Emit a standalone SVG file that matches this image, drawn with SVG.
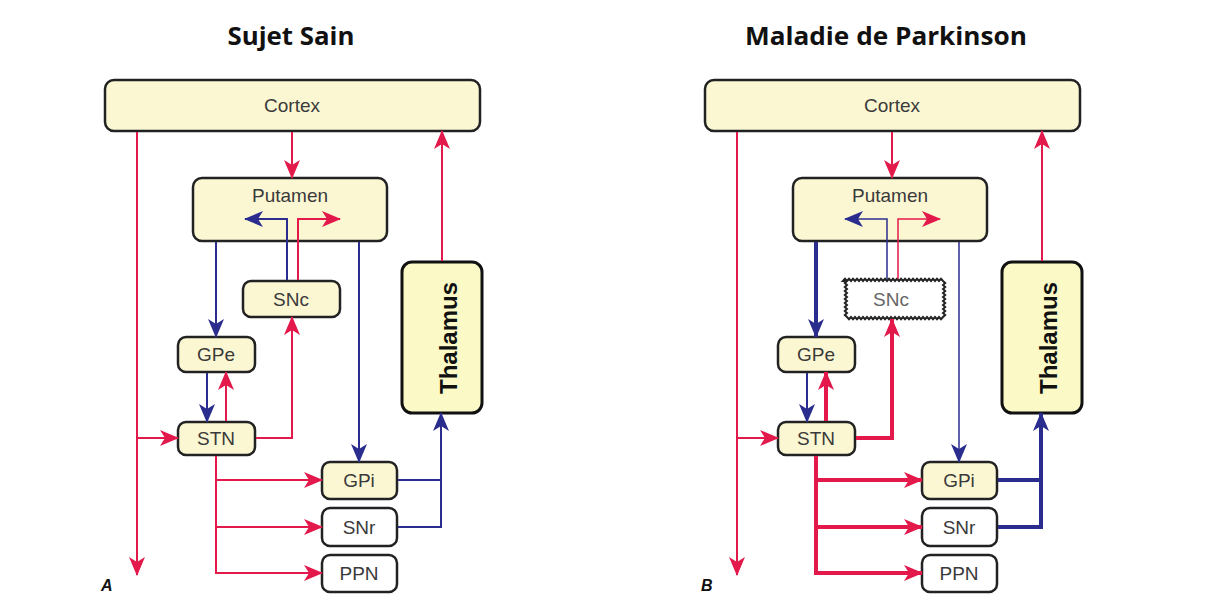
<svg xmlns="http://www.w3.org/2000/svg" width="1209" height="608" viewBox="0 0 1209 608">
<defs>
<style>
.box{fill:#fcf7d3;stroke:#222;stroke-width:2.5}
.wbox{fill:#fff;stroke:#222;stroke-width:2.5}
.thal{fill:#fbfac6;stroke:#111;stroke-width:3}
.lbl{font-family:"Liberation Sans",Arial,sans-serif;font-size:19px;fill:#3a3a3a;text-anchor:middle}
.title{font-family:"Open Sans","Liberation Sans",sans-serif;font-weight:bold;font-size:25px;fill:#111;text-anchor:middle}
.thtxt{font-family:"Liberation Sans",Arial,sans-serif;font-weight:bold;font-size:24px;fill:#111;text-anchor:middle}
.r{fill:none;stroke:#e3194b;stroke-width:2}
.b{fill:none;stroke:#2b2d8e;stroke-width:2}
.rt{fill:none;stroke:#e3194b;stroke-width:4}
.bt{fill:none;stroke:#2b2d8e;stroke-width:4}
.thin{stroke-width:1.5}
.panel{font-family:"Liberation Sans",Arial,sans-serif;font-weight:bold;font-style:italic;font-size:16px;fill:#111}
</style>
<marker id="ar" markerUnits="userSpaceOnUse" markerWidth="19" markerHeight="16" viewBox="0 0 19 16" refX="18" refY="8" orient="auto"><path d="M0,0 L19,8 L0,16 L5,8 z" fill="#e3194b"/></marker>
<marker id="ab" markerUnits="userSpaceOnUse" markerWidth="19" markerHeight="16" viewBox="0 0 19 16" refX="18" refY="8" orient="auto"><path d="M0,0 L19,8 L0,16 L5,8 z" fill="#2b2d8e"/></marker>
</defs>
<rect width="1209" height="608" fill="#fff"/>

<text class="title" x="291" y="45" textLength="127" lengthAdjust="spacingAndGlyphs">Sujet Sain</text>
<text class="title" x="886" y="45" textLength="282" lengthAdjust="spacingAndGlyphs">Maladie de Parkinson</text>

<!-- Nodes panel A -->
<g id="A-cortex"><rect class="box" x="105" y="80" width="375" height="51" rx="9"/><text class="lbl" x="292" y="112">Cortex</text></g>
<g id="A-putamen"><rect class="box" x="193" y="178" width="194" height="63" rx="9"/><text class="lbl" x="290" y="202">Putamen</text></g>
<g id="A-snc"><rect class="box" x="243" y="281" width="97" height="36" rx="8"/><text class="lbl" x="291" y="306">SNc</text></g>
<g id="A-gpe"><rect class="box" x="178" y="337" width="77" height="35" rx="8"/><text class="lbl" x="216" y="361">GPe</text></g>
<g id="A-stn"><rect class="box" x="178" y="422" width="77" height="33" rx="8"/><text class="lbl" x="216" y="445">STN</text></g>
<g id="A-gpi"><rect class="box" x="322" y="462" width="75" height="37" rx="8"/><text class="lbl" x="359" y="487">GPi</text></g>
<g id="A-snr"><rect class="wbox" x="322" y="508" width="75" height="38" rx="8"/><text class="lbl" x="359" y="534">SNr</text></g>
<g id="A-ppn"><rect class="wbox" x="322" y="555" width="75" height="37" rx="8"/><text class="lbl" x="359" y="580">PPN</text></g>
<g id="A-thalamus"><rect class="thal" x="402" y="262" width="80" height="151" rx="10"/><text class="thtxt" transform="translate(457,338) rotate(-90)" x="0" y="0">Thalamus</text></g>
<text class="panel" x="101" y="591">A</text>

<!-- Nodes panel B -->
<g id="B-cortex"><rect class="box" x="705" y="80" width="375" height="51" rx="9"/><text class="lbl" x="892" y="112">Cortex</text></g>
<g id="B-putamen"><rect class="box" x="793" y="178" width="194" height="63" rx="9"/><text class="lbl" x="890" y="202">Putamen</text></g>
<g id="B-snc"><path fill="#fff" stroke="#222" stroke-width="2" d="M843,281 l2,-2.2 l2,2.2 l2,-2.2 l2,2.2 l2,-2.2 l2,2.2 l2,-2.2 l2,2.2 l2,-2.2 l2,2.2 l2,-2.2 l2,2.2 l2,-2.2 l2,2.2 l2,-2.2 l2,2.2 l2,-2.2 l2,2.2 l2,-2.2 l2,2.2 l2,-2.2 l2,2.2 l2,-2.2 l2,2.2 l2,-2.2 l2,2.2 l2,-2.2 l2,2.2 l2,-2.2 l2,2.2 l2,-2.2 l2,2.2 l2,-2.2 l2,2.2 l2,-2.2 l2,2.2 l2,-2.2 l2,2.2 l2,-2.2 l2,2.2 l2,-2.2 l2,2.2 l2,-2.2 l2,2.2 l2,-2.2 l2,2.2 l2,-2.2 l2,2.2 l2,-2.2 l2,2.2 l2.2,2 l-2.2,2 l2.2,2 l-2.2,2 l2.2,2 l-2.2,2 l2.2,2 l-2.2,2 l2.2,2 l-2.2,2 l2.2,2 l-2.2,2 l2.2,2 l-2.2,2 l2.2,2 l-2.2,2 l2.2,2 l-2.2,2 l-2,2.2 l-2,-2.2 l-2,2.2 l-2,-2.2 l-2,2.2 l-2,-2.2 l-2,2.2 l-2,-2.2 l-2,2.2 l-2,-2.2 l-2,2.2 l-2,-2.2 l-2,2.2 l-2,-2.2 l-2,2.2 l-2,-2.2 l-2,2.2 l-2,-2.2 l-2,2.2 l-2,-2.2 l-2,2.2 l-2,-2.2 l-2,2.2 l-2,-2.2 l-2,2.2 l-2,-2.2 l-2,2.2 l-2,-2.2 l-2,2.2 l-2,-2.2 l-2,2.2 l-2,-2.2 l-2,2.2 l-2,-2.2 l-2,2.2 l-2,-2.2 l-2,2.2 l-2,-2.2 l-2,2.2 l-2,-2.2 l-2,2.2 l-2,-2.2 l-2,2.2 l-2,-2.2 l-2,2.2 l-2,-2.2 l-2,2.2 l-2,-2.2 l-2.2,-2 l2.2,-2 l-2.2,-2 l2.2,-2 l-2.2,-2 l2.2,-2 l-2.2,-2 l2.2,-2 l-2.2,-2 l2.2,-2 l-2.2,-2 l2.2,-2 l-2.2,-2 l2.2,-2 l-2.2,-2 l2.2,-2 l-2.2,-2 l2.2,-2 z"/><text class="lbl" x="891" y="306" style="fill:#666">SNc</text></g>
<g id="B-gpe"><rect class="box" x="778" y="337" width="77" height="35" rx="8"/><text class="lbl" x="816" y="361">GPe</text></g>
<g id="B-stn"><rect class="box" x="778" y="422" width="77" height="33" rx="8"/><text class="lbl" x="816" y="445">STN</text></g>
<g id="B-gpi"><rect class="box" x="922" y="462" width="75" height="37" rx="8"/><text class="lbl" x="959" y="487">GPi</text></g>
<g id="B-snr"><rect class="wbox" x="922" y="508" width="75" height="38" rx="8"/><text class="lbl" x="959" y="534">SNr</text></g>
<g id="B-ppn"><rect class="wbox" x="922" y="555" width="75" height="37" rx="8"/><text class="lbl" x="959" y="580">PPN</text></g>
<g id="B-thalamus"><rect class="thal" x="1002" y="262" width="80" height="151" rx="10"/><text class="thtxt" transform="translate(1057,338) rotate(-90)" x="0" y="0">Thalamus</text></g>
<text class="panel" x="701" y="591">B</text>

<!-- Connectors panel A -->
<g id="connectors-A">
<path class="r" d="M292,132 V178" marker-end="url(#ar)"/>
<path class="r" d="M442,261 V131" marker-end="url(#ar)"/>
<path class="r" d="M137,132 V575" marker-end="url(#ar)"/>
<path class="r" d="M137,438 H178" marker-end="url(#ar)"/>
<path class="b" d="M216,242 V337" marker-end="url(#ab)"/>
<path class="b" d="M359,242 V462" marker-end="url(#ab)"/>
<path class="b" d="M287,280 V219 H245" marker-end="url(#ab)"/>
<path class="r" d="M298,280 V219 H340" marker-end="url(#ar)"/>
<path class="b" d="M207,373 V422" marker-end="url(#ab)"/>
<path class="r" d="M226,421 V372" marker-end="url(#ar)"/>
<path class="r" d="M256,438 H292 V317" marker-end="url(#ar)"/>
<path class="r" d="M216,456 V573 H322" marker-end="url(#ar)"/>
<path class="r" d="M216,480 H322" marker-end="url(#ar)"/>
<path class="r" d="M216,527 H322" marker-end="url(#ar)"/>
<path class="b" d="M398,480 H441"/>
<path class="b" d="M398,527 H441 V413" marker-end="url(#ab)"/>
</g>

<!-- Connectors panel B -->
<g id="connectors-B">
<path class="r" d="M892,132 V178" marker-end="url(#ar)"/>
<path class="r" d="M1042,261 V131" marker-end="url(#ar)"/>
<path class="r" d="M737,132 V575" marker-end="url(#ar)"/>
<path class="r" d="M737,438 H778" marker-end="url(#ar)"/>
<path class="bt" d="M816,242 V337" marker-end="url(#ab)"/>
<path class="b thin" d="M959,242 V462" marker-end="url(#ab)"/>
<path class="b thin" d="M887,279 V219 H845" marker-end="url(#ab)"/>
<path class="r thin" d="M898,279 V219 H940" marker-end="url(#ar)"/>
<path class="b" d="M807,373 V422" marker-end="url(#ab)"/>
<path class="rt" d="M826,421 V372" marker-end="url(#ar)"/>
<path class="rt" d="M856,438 H892 V319" marker-end="url(#ar)"/>
<path class="rt" d="M816,456 V573 H922" marker-end="url(#ar)"/>
<path class="rt" d="M816,480 H922" marker-end="url(#ar)"/>
<path class="rt" d="M816,527 H922" marker-end="url(#ar)"/>
<path class="bt" d="M998,480 H1041"/>
<path class="bt" d="M998,527 H1041 V413" marker-end="url(#ab)"/>
</g>
</svg>
